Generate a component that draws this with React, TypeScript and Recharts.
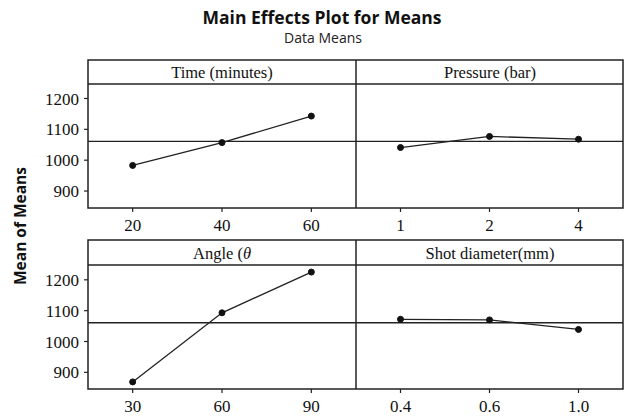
import React from 'react';
import { LineChart, Line, XAxis, YAxis, ReferenceLine } from 'recharts';

const timeLabels = ['20', '40', '60'];
const timeMeans = [983, 1057, 1143];
const pressureLabels = ['1', '2', '4'];
const pressureMeans = [1041, 1077, 1068];
const angleLabels = ['30', '60', '90'];
const angleMeans = [869, 1093, 1225];
const shotLabels = ['0.4', '0.6', '1.0'];
const shotMeans = [1072, 1070, 1039];
const yTicks = [900, 1000, 1100, 1200];
const grandMean = 1061;

const SERIF = '"Liberation Serif", "DejaVu Serif", serif';
const SANS = '"Open Sans", "DejaVu Sans", sans-serif';
const INK = '#222';

type PanelProps = {
  labels: string[];
  values: number[];
  left: number;
  top: number;
  width: number;
  showY: boolean;
  domain: [number, number];
};

function Panel({ labels, values, left, top, width, showY, domain }: PanelProps) {
  const data = values.map((v, k) => ({ i: k + 1, v }));
  return (
    <div style={{ position: 'absolute', left, top }}>
      <LineChart width={width} height={154} data={data} margin={{ top: 0, right: 0, bottom: 0, left: 0 }}>
        <XAxis
          dataKey="i"
          type="number"
          domain={[0.5, 3.5]}
          ticks={[1, 2, 3]}
          tickFormatter={(i: number) => labels[i - 1]}
          height={30}
          axisLine={false}
          tickLine={{ stroke: INK, strokeWidth: 1.2 }}
          tickSize={4}
          tickMargin={7}
          tick={{ fill: '#111', fontSize: 17, fontFamily: SERIF }}
          interval={0}
        />
        <YAxis
          type="number"
          domain={domain}
          ticks={yTicks}
          hide={!showY}
          width={88}
          axisLine={false}
          tickLine={{ stroke: INK, strokeWidth: 1.2 }}
          tickSize={4}
          tickMargin={5}
          tick={{ fill: '#111', fontSize: 17, fontFamily: SERIF }}
          allowDataOverflow
        />
        <ReferenceLine y={grandMean} stroke={INK} strokeWidth={1.4} ifOverflow="extendDomain" />
        <Line
          dataKey="v"
          stroke={INK}
          strokeWidth={1.3}
          dot={{ r: 3, fill: '#111', stroke: '#111', strokeWidth: 1 }}
          isAnimationActive={false}
        />
      </LineChart>
    </div>
  );
}

export default function App() {
  const topDomain: [number, number] = [845, 1247];
  const botDomain: [number, number] = [846, 1248];
  return (
    <div style={{ position: 'absolute', left: 0, top: 0, width: 628, height: 419, background: '#fff', overflow: 'hidden' }}>
      <Panel labels={timeLabels} values={timeMeans} left={0} top={84} width={356} showY domain={topDomain} />
      <Panel labels={pressureLabels} values={pressureMeans} left={356} top={84} width={267} showY={false} domain={topDomain} />
      <Panel labels={angleLabels} values={angleMeans} left={0} top={265} width={356} showY domain={botDomain} />
      <Panel labels={shotLabels} values={shotMeans} left={356} top={265} width={267} showY={false} domain={botDomain} />
      <svg width={628} height={419} style={{ position: 'absolute', left: 0, top: 0, pointerEvents: 'none' }}>
        <text x={322} y={24} textAnchor="middle" fontFamily={SANS} fontWeight={700} fontSize={17.5} fill="#111">
          Main Effects Plot for Means
        </text>
        <text x={323} y={43} textAnchor="middle" fontFamily={SANS} fontSize={14} fill="#222">
          Data Means
        </text>
        <text
          x={0}
          y={0}
          transform="translate(26,226) rotate(-90)"
          textAnchor="middle"
          fontFamily={SANS}
          fontWeight={700}
          fontSize={15.5}
          fill="#111"
        >
          Mean of Means
        </text>
        {/* top row frame */}
        <rect x={88} y={60} width={535} height={148} fill="none" stroke={INK} strokeWidth={1.5} />
        <line x1={356} y1={60} x2={356} y2={208} stroke={INK} strokeWidth={1.5} />
        <line x1={88} y1={84} x2={623} y2={84} stroke={INK} strokeWidth={1.5} />
        {/* bottom row frame */}
        <rect x={88} y={240} width={535} height={149} fill="none" stroke={INK} strokeWidth={1.5} />
        <line x1={356} y1={240} x2={356} y2={389} stroke={INK} strokeWidth={1.5} />
        <line x1={88} y1={265} x2={623} y2={265} stroke={INK} strokeWidth={1.5} />
        {/* header titles */}
        <text x={222} y={77.5} textAnchor="middle" fontFamily={SERIF} fontSize={16.5} fill="#111">Time (minutes)</text>
        <text x={490} y={77.5} textAnchor="middle" fontFamily={SERIF} fontSize={16.5} fill="#111">Pressure (bar)</text>
        <text x={222} y={258.5} textAnchor="middle" fontFamily={SERIF} fontSize={16.5} fill="#111">
          Angle (<tspan fontStyle="italic">θ</tspan>
        </text>
        <text x={490} y={258.5} textAnchor="middle" fontFamily={SERIF} fontSize={16.5} fill="#111">Shot diameter(mm)</text>
      </svg>
    </div>
  );
}
